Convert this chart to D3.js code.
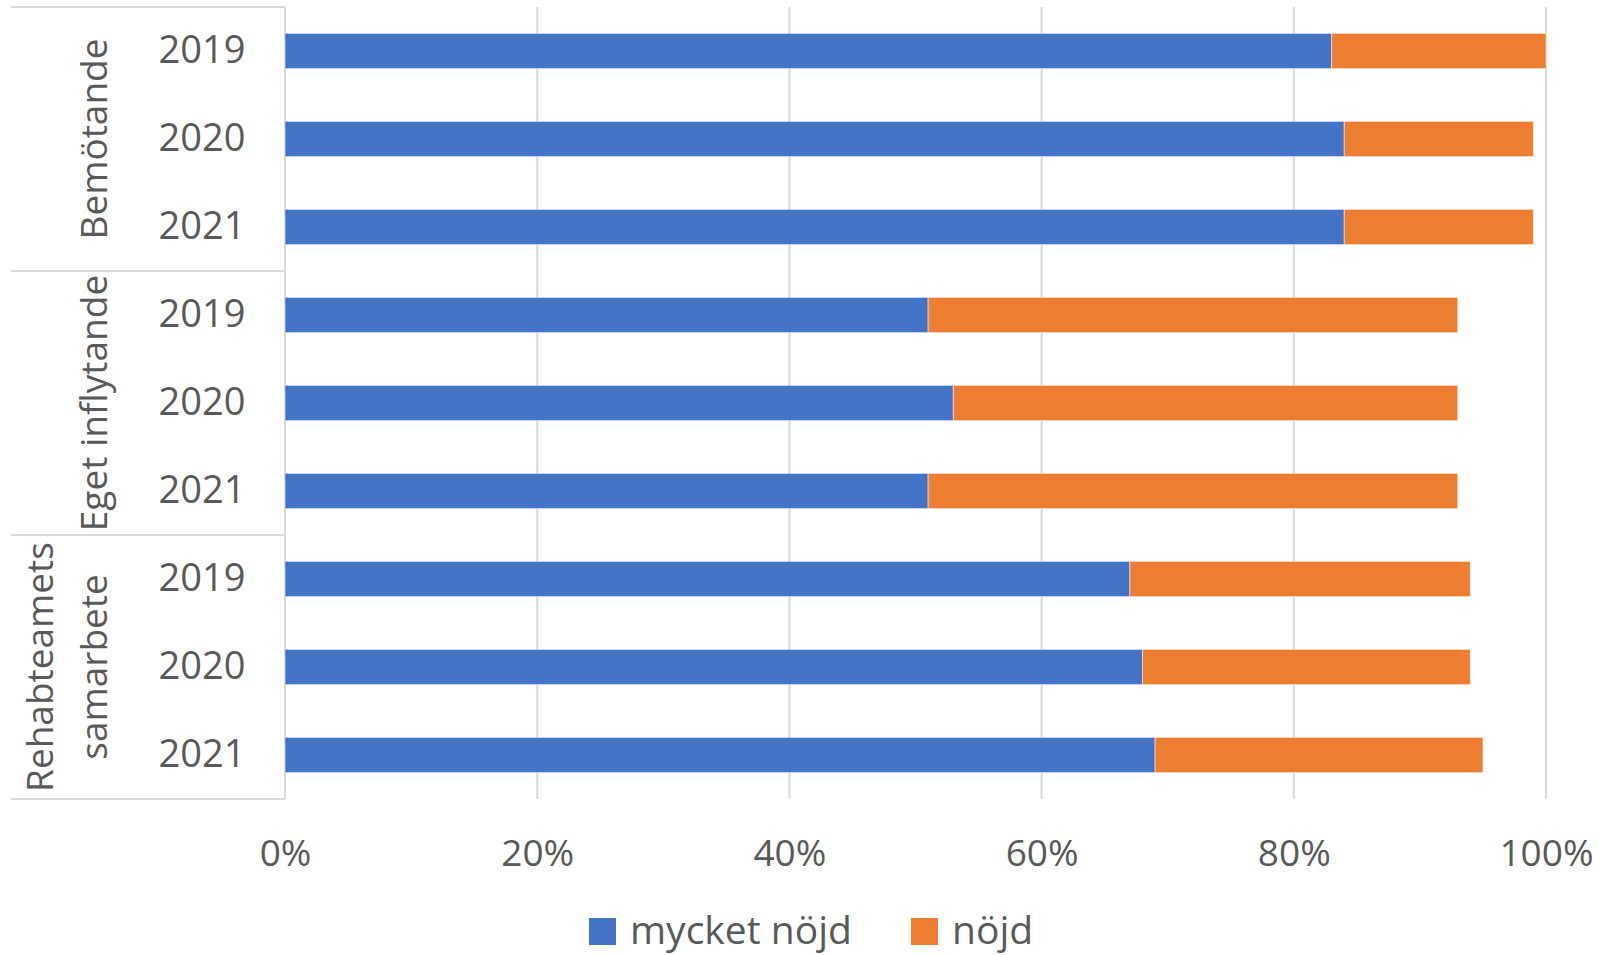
<!DOCTYPE html>
<html>
<head>
<meta charset="utf-8">
<script src="https://cdn.jsdelivr.net/npm/d3@7"></script>
<style>
  html, body { margin: 0; padding: 0; background: #fff; }
  svg { display: block; }
  text { font-family: "Open Sans", sans-serif; fill: #595959; }
</style>
</head>
<body>
<div id="chart"></div>
<script>
// data (percent of respondents)
const groups = ["Bemötande", "Eget inflytande", "Rehabteamets samarbete"];
const years = ["2019", "2020", "2021"];
const series_names = ["mycket nöjd", "nöjd"];
const mycket_nojd = [83, 84, 84, 51, 53, 51, 67, 68, 69];
const nojd = [17, 15, 15, 42, 40, 42, 27, 26, 26];
const x_ticks = [0, 20, 40, 60, 80, 100];

const colors = ["#4472C4", "#ED7D31"];
const dimensions = { width: 1599, height: 955 };
const plot = { left: 285, right: 1546, top: 7, bottom: 799 };

function build_rows() {
    let rows = [];
    for (let g = 0; g < groups.length; g++) {
        for (let y = 0; y < years.length; y++) {
            let i = g * years.length + y;
            rows.push({ key: groups[g] + "|" + years[y], group: groups[g], year: years[y],
                        values: [mycket_nojd[i], nojd[i]] });
        }
    }
    return rows;
}

function render(DOMdiv) {
    let rows = build_rows();
    let svg = d3.select(DOMdiv).append("svg")
        .attr("width", dimensions.width)
        .attr("height", dimensions.height);

    let x = d3.scaleLinear().domain([0, 100]).range([plot.left, plot.right]);
    let y = d3.scaleBand()
        .domain(rows.map(r => r.key))
        .range([plot.top, plot.bottom])
        .paddingInner(0.6)
        .paddingOuter(0.3);

    // vertical gridlines
    svg.append("g").selectAll("line")
        .data(x_ticks)
        .enter()
        .append("line")
        .attr("x1", d => x(d))
        .attr("x2", d => x(d))
        .attr("y1", plot.top)
        .attr("y2", plot.bottom)
        .style("stroke", "#D9D9D9")
        .style("stroke-width", 2);

    // category axis frame with group separators
    let group_step = y.step() * years.length;
    let seps = d3.range(groups.length + 1).map(g => plot.top + g * group_step);
    svg.append("g").selectAll("line")
        .data(seps)
        .enter()
        .append("line")
        .attr("x1", 11)
        .attr("x2", plot.left)
        .attr("y1", d => d)
        .attr("y2", d => d)
        .style("stroke", "#D9D9D9")
        .style("stroke-width", 2);

    // stacked bars
    let stacked = [];
    rows.forEach(r => {
        let start = 0;
        r.values.forEach((v, s) => {
            stacked.push({ key: r.key, s: s, x0: start, x1: start + v });
            start += v;
        });
    });
    svg.append("g").selectAll("rect")
        .data(stacked)
        .enter()
        .append("rect")
        .attr("x", d => x(d.x0))
        .attr("y", d => y(d.key))
        .attr("width", d => x(d.x1) - x(d.x0))
        .attr("height", y.bandwidth())
        .style("fill", d => colors[d.s])
        .style("stroke", "#fff")
        .style("stroke-opacity", 0.5)
        .style("stroke-width", 1);

    // year labels
    svg.append("g").selectAll("text")
        .data(rows)
        .enter()
        .append("text")
        .attr("x", 202)
        .attr("y", d => y(d.key) + y.bandwidth() / 2 + 12)
        .attr("text-anchor", "middle")
        .attr("font-size", "38px")
        .text(d => d.year);

    // group labels, rotated
    let glabels = svg.append("g").selectAll("text")
        .data(groups)
        .enter()
        .append("text")
        .attr("transform", (d, g) => {
            let cy = plot.top + (g + 0.5) * group_step;
            return "translate(107," + cy + ") rotate(-90)";
        })
        .attr("text-anchor", "middle")
        .attr("font-size", "37px");
    glabels.each(function (d) {
        let words = d.split(" ");
        let t = d3.select(this);
        if (d === "Rehabteamets samarbete") {
            t.append("tspan").attr("x", 0).attr("y", -54).text(words[0]);
            t.append("tspan").attr("x", 0).attr("y", 0).text(words[1]);
        } else {
            t.append("tspan").attr("x", 0).attr("y", 0).text(d);
        }
    });

    // value axis
    let axis = d3.axisBottom(x)
        .tickValues(x_ticks)
        .tickFormat(d => d + "%")
        .tickSize(0)
        .tickPadding(41);
    let ax = svg.append("g")
        .attr("transform", "translate(0," + plot.bottom + ")")
        .call(axis);
    ax.select(".domain").remove();
    ax.selectAll("text")
        .attr("font-size", "37px")
        .style("font-family", "'Open Sans', sans-serif")
        .style("fill", "#595959");

    // legend
    let legend_x = [589, 911];
    let legend = svg.append("g").selectAll("g")
        .data(series_names)
        .enter()
        .append("g")
        .attr("transform", (d, i) => "translate(" + legend_x[i] + ",918)");
    legend.append("rect")
        .attr("width", 27)
        .attr("height", 27)
        .style("fill", (d, i) => colors[i]);
    legend.append("text")
        .attr("x", 41)
        .attr("y", 26)
        .attr("font-size", "39px")
        .text(d => d);
}

render("#chart");
</script>
</body>
</html>
